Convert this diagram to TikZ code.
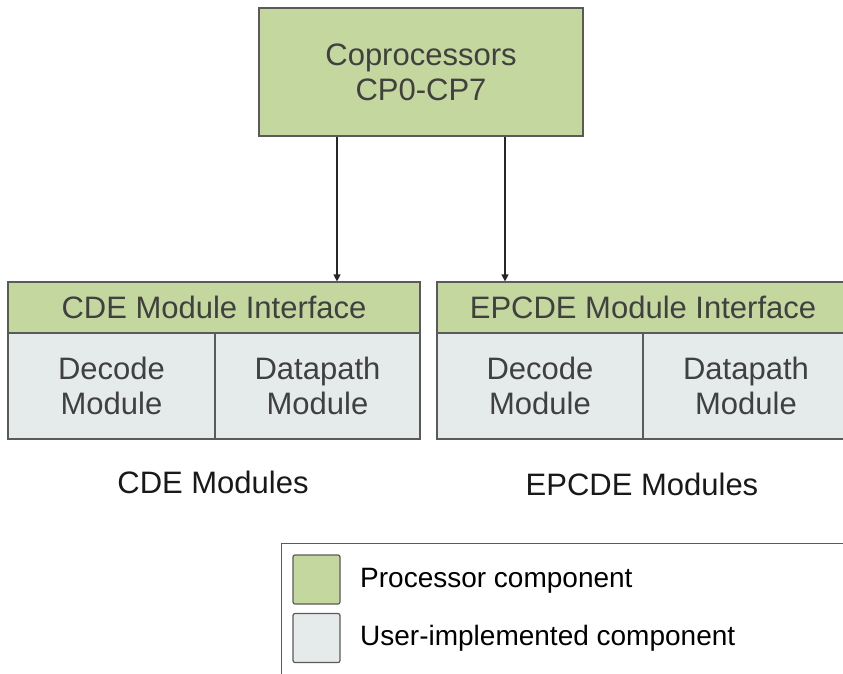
\documentclass[tikz,border=0pt]{standalone}
\usepackage{fontspec}
\setmainfont{Liberation Sans}
\usetikzlibrary{arrows.meta}
\definecolor{procgreen}{HTML}{C4D79E}
\definecolor{usergray}{HTML}{E5EAEA}
\definecolor{edgegray}{HTML}{5A5A5A}
\definecolor{txtgray}{HTML}{404040}
\tikzset{
  blk/.style={draw=edgegray, line width=1.2pt, inner sep=0pt, align=center,
    text=txtgray, font=\fontsize{31}{35}\selectfont},
  proc/.style={blk, fill=procgreen},
  user/.style={blk, fill=usergray},
  arr/.style={draw=black!85, line width=1.2pt, -{Triangle[length=7pt,width=7pt]}},
  lbl/.style={font=\fontsize{31}{35}\selectfont, text=black!90},
  legtxt/.style={font=\fontsize{28}{32}\selectfont, text=black, anchor=west, inner sep=0pt},
  swatch/.style={draw=edgegray, line width=1.2pt, rounded corners=2pt, minimum width=47pt, minimum height=49pt, inner sep=0pt}
}
\begin{document}
\begin{tikzpicture}[x=1pt,y=-1pt]
\useasboundingbox (0,0) rectangle (843,673);
\clip (0,0) rectangle (843,673);
\fill[white] (0,0) rectangle (843,673);
% top coprocessor box
\node[proc, minimum width=324pt, minimum height=128pt] (cp) at (421,72) {Coprocessors\\CP0-CP7};
% CDE modules
\node[proc, minimum width=412pt, minimum height=51pt] (cdeh) at (214,307.5) {CDE Module Interface};
\node[user, minimum width=207pt, minimum height=106pt] (cdedec) at (111.5,386) {Decode\\Module};
\node[user, minimum width=205pt, minimum height=106pt] (cdedp) at (317.5,386) {Datapath\\Module};
% EPCDE modules
\node[proc, minimum width=412pt, minimum height=51pt] (eph) at (643,307.5) {EPCDE Module Interface};
\node[user, minimum width=206pt, minimum height=106pt] (epdec) at (540,386) {Decode\\Module};
\node[user, minimum width=206pt, minimum height=106pt] (epdp) at (746,386) {Datapath\\Module};
% arrows
\draw[arr] ([xshift=-84pt]cp.south) -- ([xshift=-84pt]cp.south |- cdeh.north);
\draw[arr] ([xshift=84pt]cp.south) -- ([xshift=84pt]cp.south |- eph.north);
% labels
\node[lbl] (cdelbl) at (213,482) {CDE Modules};
\node[lbl] (eplbl) at (642,484) {EPCDE Modules};
% legend
\node[draw=edgegray, line width=1.2pt, minimum width=580pt, minimum height=150pt, inner sep=0pt, anchor=north west] (legend) at (281,543) {};
\node[swatch, fill=procgreen] (sw1) at (316.5,579.5) {};
\node[swatch, fill=usergray] (sw2) at (316.5,638) {};
\node[legtxt] (lt1) at (360,581) {Processor component};
\node[legtxt] (lt2) at (360,638) {User-implemented component};
\end{tikzpicture}
\end{document}
